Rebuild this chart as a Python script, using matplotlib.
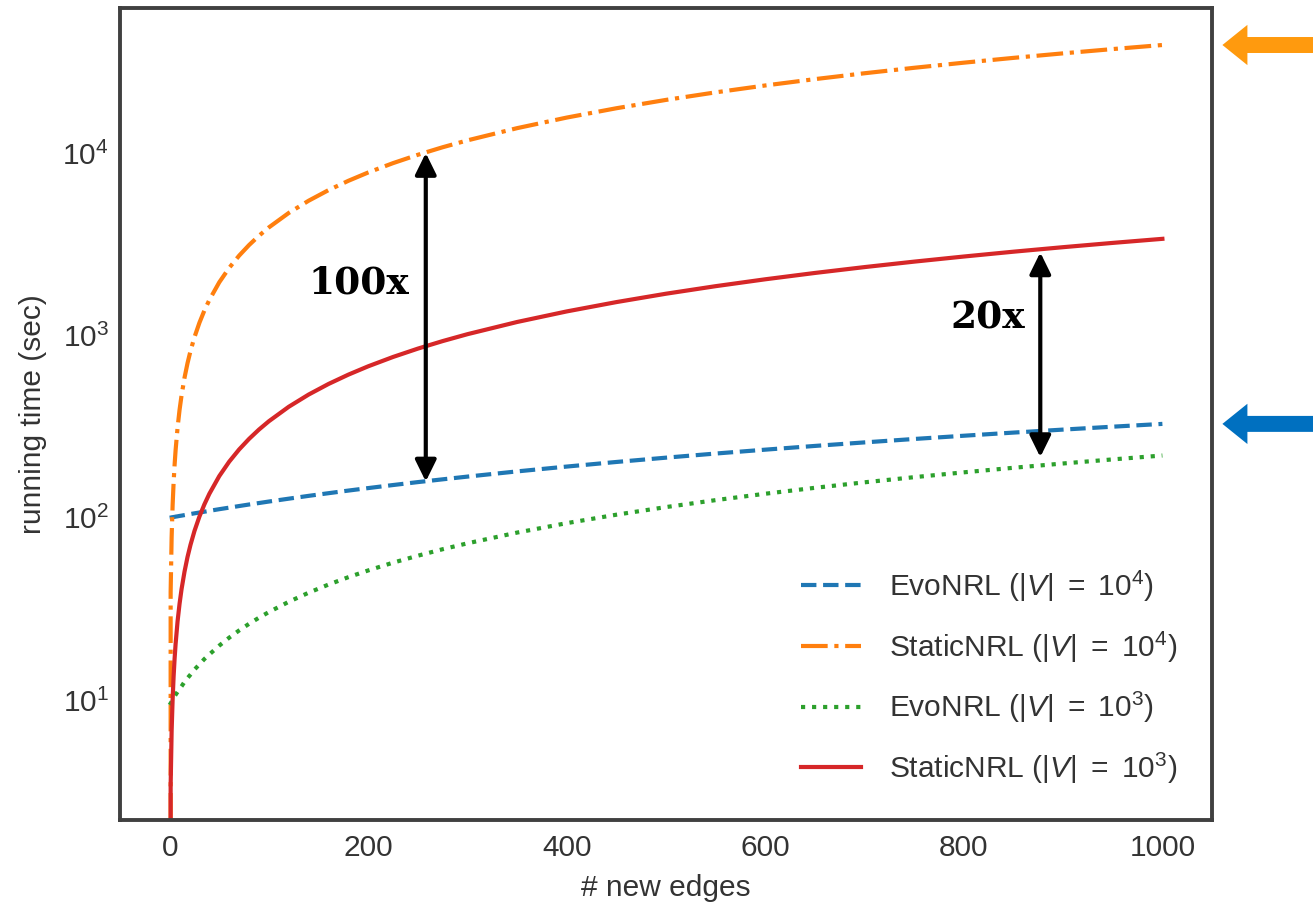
import matplotlib
matplotlib.use("Agg")
import matplotlib.pyplot as plt

# Running time (seconds) versus number of newly added edges
n_edges = [0, 1, 2, 3, 4, 5, 6, 8, 10, 12, 15, 18, 21, 25, 30, 35, 40, 50, 60,
           70, 80, 90, 100, 120, 140, 160, 180, 200, 225, 250, 275, 300, 350,
           400, 450, 500, 550, 600, 650, 700, 750, 800, 850, 900, 950, 1000]

evo_1e4 = [100, 100.2, 100.5, 100.7, 100.9, 101.1, 101.4, 101.8, 102.3, 102.7,
           103.4, 104.1, 104.8, 105.7, 106.8, 107.9, 109.1, 111.4, 113.6, 115.9,
           118.2, 120.4, 122.7, 127.2, 131.8, 136.3, 140.9, 145.4, 151.1, 156.8,
           162.4, 168.1, 179.5, 190.8, 202.2, 213.5, 224.9, 236.2, 247.6, 258.9,
           270.3, 281.6, 293.0, 304.3, 315.7, 327]

static_1e4 = [0, 39.1, 78.2, 117.3, 156.4, 195.5, 234.6, 312.8, 391, 469.2,
              586.5, 703.8, 821.1, 977.5, 1173, 1369, 1564, 1955, 2346, 2737,
              3128, 3519, 3910, 4692, 5474, 6256, 7038, 7820, 8798, 9775, 10753,
              11730, 13685, 15640, 17595, 19550, 21505, 23460, 25415, 27370,
              29325, 31280, 33235, 35190, 37145, 39100]

evo_1e3 = [9.4, 9.6, 9.8, 10.0, 10.2, 10.5, 10.7, 11.1, 11.5, 11.9, 12.6, 13.2,
           13.8, 14.7, 15.7, 16.8, 17.8, 19.9, 22.0, 24.1, 26.2, 28.3, 30.4,
           34.6, 38.8, 43.0, 47.2, 51.4, 56.7, 61.9, 67.2, 72.4, 82.9, 93.4,
           103.9, 114.4, 124.9, 135.4, 145.9, 156.4, 166.9, 177.4, 187.9, 198.4,
           208.9, 219.4]

static_1e3 = [0, 3.38, 6.77, 10.1, 13.5, 16.9, 20.3, 27.1, 33.8, 40.6, 50.7,
              60.9, 71.0, 84.6, 101.5, 118.4, 135.3, 169.2, 203.0, 236.8, 270.6,
              304.5, 338.3, 406.0, 473.6, 541.3, 608.9, 676.6, 761.2, 845.8,
              930.3, 1015, 1184, 1353, 1522, 1692, 1861, 2030, 2199, 2368, 2537,
              2706, 2876, 3045, 3214, 3383]

labels = [r"EvoNRL ($|V|\ =\ 10^4$)", r"StaticNRL ($|V|\ =\ 10^4$)",
          r"EvoNRL ($|V|\ =\ 10^3$)", r"StaticNRL ($|V|\ =\ 10^3$)"]

x_ticks = [0, 200, 400, 600, 800, 1000]

# speed-up annotations: (x position, upper value, lower value, text, text x, text y)
speedups = [(258, 10000, 158, "100x", 191, 1940),
            (877, 2850, 215, "20x", 824, 1250)]

plt.rcParams["font.family"] = ["Liberation Sans", "DejaVu Sans"]
plt.rcParams["mathtext.fontset"] = "custom"
plt.rcParams["mathtext.rm"] = "Liberation Sans"
plt.rcParams["mathtext.it"] = "Liberation Sans:italic"
plt.rcParams["mathtext.bf"] = "Liberation Sans:bold"

FS = 21.5
TEXT = "#333333"

fig = plt.figure(figsize=(13.13, 9.07), dpi=100)
ax = fig.add_axes([0.0914, 0.0959, 0.9231 - 0.0914, 0.9912 - 0.0959])

lw = 3.0
ax.plot(n_edges, evo_1e4, color="#1f77b4", ls="--", lw=lw, label=labels[0])
ax.plot(n_edges, static_1e4, color="#ff7f0e", ls="-.", lw=lw, label=labels[1])
ax.plot(n_edges, evo_1e3, color="#2ca02c", ls=":", lw=lw, label=labels[2])
ax.plot(n_edges, static_1e3, color="#d62728", ls="-", lw=lw, label=labels[3])

ax.set_yscale("log")
ax.set_xlim(-50, 1050)
ax.set_ylim(2.2, 62400)
ax.set_xticks(x_ticks)
ax.yaxis.set_minor_locator(matplotlib.ticker.NullLocator())

ax.tick_params(axis="both", length=0, labelsize=FS, colors=TEXT)
ax.tick_params(axis="x", pad=10)
ax.tick_params(axis="y", pad=8)
ax.set_xlabel("# new edges", fontsize=FS, color=TEXT, labelpad=9)
ax.set_ylabel("running time (sec)", fontsize=FS, color=TEXT, labelpad=11)

for sp in ax.spines.values():
    sp.set_color("#404040")
    sp.set_linewidth(2.8)

leg = ax.legend(loc="lower right", frameon=False, fontsize=FS,
                labelspacing=0.85, handlelength=2.0, handletextpad=0.95,
                borderaxespad=0.75)
for t in leg.get_texts():
    t.set_color(TEXT)

# double-headed arrows marking the speed-up between methods
for xs, top, bot, txt, tx, ty in speedups:
    ax.annotate("", xy=(xs, top), xytext=(xs, bot),
                arrowprops=dict(arrowstyle="<|-|>,head_length=0.65,head_width=0.32",
                                color="black", lw=3.0, shrinkA=0, shrinkB=0,
                                mutation_scale=20))
    ax.text(tx, ty, txt, fontsize=27, fontweight="bold", family="DejaVu Serif",
            ha="center", va="center", color="black")

# block arrows on the right pointing at the final values of the 10^4 series
for val, col in [(static_1e4[-1], "#ff9a0e"), (evo_1e4[-1], "#0070c0")]:
    ax.annotate("", xy=(1.0095, val), xycoords=("axes fraction", "data"),
                xytext=(1.14, val), textcoords=("axes fraction", "data"),
                annotation_clip=False,
                arrowprops=dict(arrowstyle="simple,head_length=1.8,head_width=2.9,tail_width=1.15",
                                fc=col, ec="none", shrinkA=0, shrinkB=0,
                                mutation_scale=10))

fig.savefig("out.png", dpi=100)
